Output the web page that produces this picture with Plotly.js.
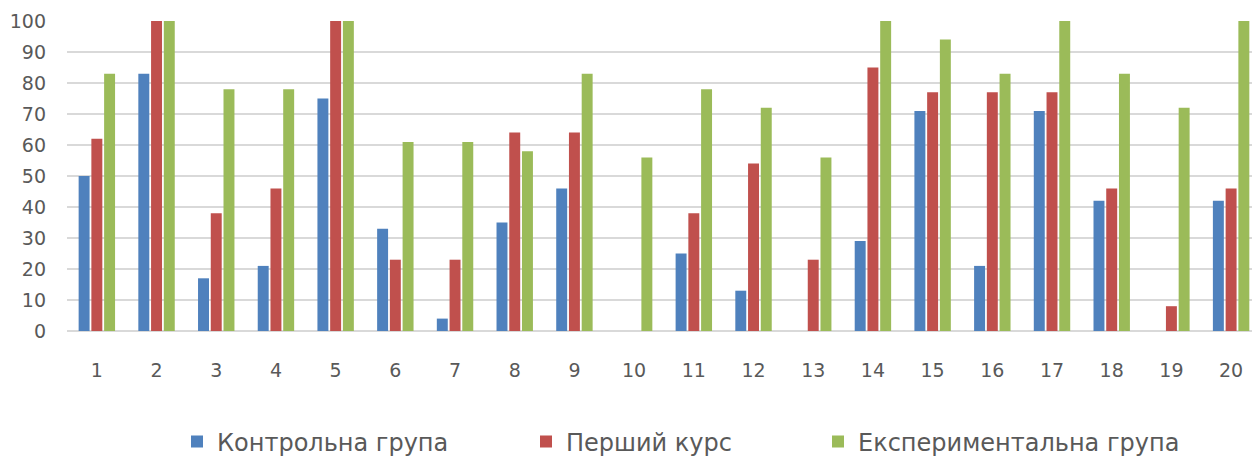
<!DOCTYPE html>
<html><head><meta charset="utf-8">
<script src="https://cdn.plot.ly/plotly-3.0.1.min.js"></script>
<style>html,body{margin:0;padding:0;background:#fff}#chart{width:1252px;height:457px}</style>
</head><body><div id="chart"></div>
<script>
const categories = [1,2,3,4,5,6,7,8,9,10,11,12,13,14,15,16,17,18,19,20];
const controlGroup = [50,83,17,21,75,33,4,35,46,0,25,13,0,29,71,21,71,42,0,42];
const firstCourse = [62,100,38,46,100,23,23,64,64,0,38,54,23,85,77,77,77,46,8,46];
const experimentalGroup = [83,100,78,78,100,61,61,58,83,56,78,72,56,100,94,83,100,83,72,100];
const seriesNames = ['Контрольна група','Перший курс','Експериментальна група'];
const colors = ['#4F81BD','#C0504D','#9BBB59'];
const FONT = 'DejaVu Sans, sans-serif';

const data = [controlGroup, firstCourse, experimentalGroup].map((vals,i)=>({
  type:'bar', x:categories, y:vals, name:seriesNames[i],
  marker:{color:colors[i], line:{width:0}},
  legend: i===0 ? 'legend' : (i===1 ? 'legend2' : 'legend3'),
  hoverinfo:'x+y+name'
}));

const legBase = {orientation:'h', xref:'container', yref:'container', yanchor:'middle', xanchor:'left',
  y:1-442/457, bgcolor:'rgba(0,0,0,0)', font:{family:FONT, size:24, color:'#595959'}, itemwidth:30};

const layout = {
  width:1252, height:457,
  margin:{l:67, r:0, t:21, b:126},
  paper_bgcolor:'#fff', plot_bgcolor:'#fff',
  barmode:'group', bargap:0.36, bargroupgap:0.14,
  font:{family:FONT, color:'#595959'},
  xaxis:{type:'linear', range:[0.5,20.35], tickvals:categories, ticktext:categories.map(String),
    showgrid:false, zeroline:false, showline:false, ticks:'', ticklabelstandoff:26,
    tickfont:{family:FONT, size:19, color:'#595959'}},
  yaxis:{range:[0,100], dtick:10, tick0:0, showgrid:true, gridcolor:'#D9D9D9', gridwidth:1.5,
    zeroline:true, zerolinecolor:'#D9D9D9', zerolinewidth:1.5, showline:false, ticks:'',
    ticklabelstandoff:20, tickfont:{family:FONT, size:19, color:'#595959'}},
  showlegend:true,
  legend: Object.assign({}, legBase, {x:(190-13)/1252}),
  legend2: Object.assign({}, legBase, {x:(536-10)/1252}),
  legend3: Object.assign({}, legBase, {x:(830-12)/1252})
};
Plotly.newPlot('chart', data, layout, {staticPlot:true});
</script></body></html>
